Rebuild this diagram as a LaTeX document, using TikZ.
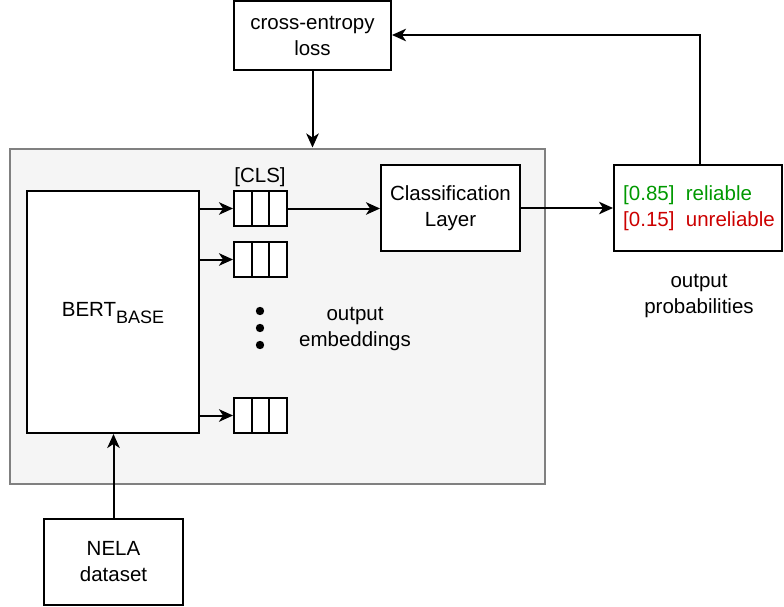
\documentclass[tikz,border=0pt]{standalone}
\usepackage{fontspec}
\setmainfont{Liberation Sans}
\usetikzlibrary{arrows.meta}
\definecolor{relgreen}{HTML}{009900}
\definecolor{unrelred}{HTML}{CC0000}
\definecolor{panelfill}{HTML}{F5F5F5}
\definecolor{panelline}{HTML}{808080}
\begin{document}
\begin{tikzpicture}[x=1pt,y=-1pt,
  every node/.style={font=\fontsize{20.5}{26}\selectfont},
  box/.style={draw=black,line width=2pt,fill=white,inner sep=0pt},
  conn/.style={line width=2pt,-{Stealth[length=14pt,width=12.5pt,inset=4pt]}},
  plain/.style={line width=2pt},
  lbl/.style={align=center,inner sep=0pt}]
\useasboundingbox (0,0) rectangle (784,607);
% panel
\node[draw=panelline,fill=panelfill,line width=2pt,minimum width=535pt,minimum height=335pt,inner sep=0pt] (panel) at (277.5,316) {};
% boxes
\node[box,minimum width=172pt,minimum height=242pt] (bert) at (113,312) {};
\node[lbl] (berttxt) at (113,313) {BERT\raisebox{-0.32em}{\fontsize{18}{18}\selectfont BASE}};
\node[box,lbl,minimum width=157pt,minimum height=69pt,fill=white,draw=black] (ce) at (312.5,35.5) {cross-entropy\\loss};
\node[box,lbl,minimum width=139pt,minimum height=86pt,fill=white,draw=black] (cls) at (450.5,208) {Classification\\Layer};
\node[box,minimum width=168pt,minimum height=86pt] (out) at (698,208) {};
\node[anchor=west,inner sep=0pt,text=relgreen] (p1) at (623,195) {[0.85]\ \ reliable};
\node[anchor=west,inner sep=0pt,text=unrelred] (p2) at (623,221) {[0.15]\ \ unreliable};
\node[box,lbl,minimum width=139pt,minimum height=86pt,fill=white,draw=black] (nela) at (113.5,562) {NELA\\dataset};
% token boxes
\foreach \n/\y in {t1/208.5,t2/259.5,t3/415.5}{
  \node[box,minimum width=53pt,minimum height=35pt] (\n) at (260.5,\y) {};
  \draw[plain] ([xshift=-8.8pt]\n.north) -- ([xshift=-8.8pt]\n.south);
  \draw[plain] ([xshift=8.8pt]\n.north) -- ([xshift=8.8pt]\n.south);
}
\node[lbl] (clslbl) at (260,177) {[CLS]};
\foreach \y/\n in {311/d1,328/d2,345/d3}{\fill (260,\y) circle (4.2pt) coordinate (\n);}
\node[lbl] (emb) at (355,329) {output\\embeddings};
\node[lbl] (prob) at (699,296) {output\\probabilities};
% connectors
\draw[conn] (bert.east |- t1) -- (t1.west);
\draw[conn] (bert.east |- t2) -- (t2.west);
\draw[conn] (bert.east |- t3) -- (t3.west);
\draw[conn] (t1.east) -- (cls.west |- t1);
\draw[conn] (cls.east) -- (out.west);
\coordinate (fbtop) at (700,35);
\draw[conn] (out.north -| fbtop) -- (fbtop) -- (ce.east |- fbtop);
\draw[conn] (ce.south) -- (ce.south |- panel.north);
\draw[conn] (nela.north) -- (nela.north |- bert.south);
\end{tikzpicture}
\end{document}
